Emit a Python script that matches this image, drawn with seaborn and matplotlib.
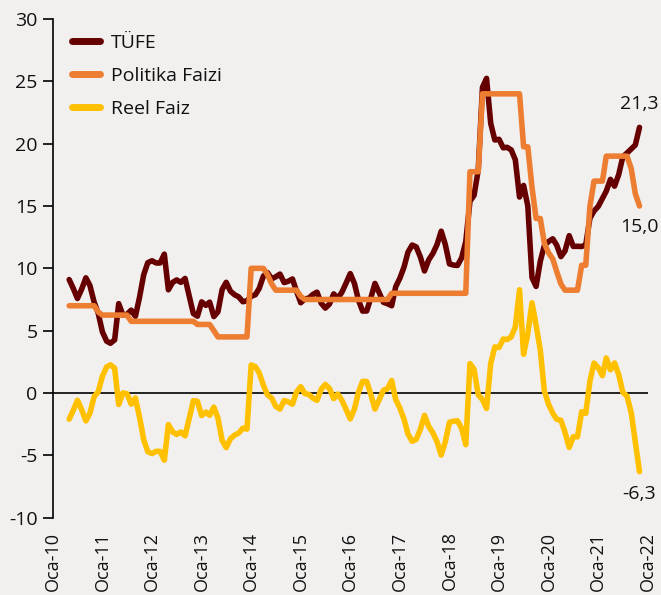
import matplotlib
matplotlib.use('Agg')
import matplotlib.pyplot as plt
import seaborn as sns
import pandas as pd
import numpy as np

# monthly data, May 2010 - Nov 2021
start_month = '2010-05-01'
n_months = 139

tufe = [
    9.10, 8.37, 7.58, 8.33, 9.24, 8.62, 7.29, 6.40,
    4.90, 4.16, 3.99, 4.26, 7.17, 6.24, 6.31, 6.65, 6.15, 7.66, 9.48, 10.45,
    10.61, 10.43, 10.43, 11.14, 8.28, 8.87, 9.07, 8.88, 9.19, 7.80, 6.37, 6.16,
    7.31, 7.03, 7.29, 6.13, 6.51, 8.30, 8.88, 8.17, 7.88, 7.71, 7.32, 7.40,
    7.75, 7.89, 8.39, 9.38, 9.66, 9.16, 9.32, 9.54, 8.86, 8.96, 9.15, 8.17,
    7.24, 7.55, 7.61, 7.91, 8.09, 7.20, 6.81, 7.14, 7.95, 7.58, 8.10, 8.81,
    9.58, 8.78, 7.46, 6.57, 6.58, 7.64, 8.79, 8.05, 7.28, 7.16, 7.00, 8.53,
    9.22, 10.13, 11.29, 11.87, 11.72, 10.90, 9.79, 10.68, 11.20, 11.90, 12.98, 11.92,
    10.35, 10.26, 10.23, 10.85, 12.15, 15.39, 15.85, 17.90, 24.52, 25.24, 21.62, 20.30,
    20.35, 19.67, 19.71, 19.50, 18.71, 15.72, 16.65, 15.01, 9.26, 8.55, 10.56, 11.84,
    12.15, 12.37, 11.86, 10.94, 11.39, 12.62, 11.76, 11.77, 11.75, 11.89, 14.03, 14.60,
    14.97, 15.61, 16.19, 17.14, 16.59, 17.53, 18.95, 19.25, 19.58, 19.89, 21.31,
]

politika = [
    7.0, 7.0, 7.0, 7.0, 7.0, 7.0, 7.0, 6.5,
    6.25, 6.25, 6.25, 6.25, 6.25, 6.25, 6.25, 5.75, 5.75, 5.75, 5.75, 5.75,
    5.75, 5.75, 5.75, 5.75, 5.75, 5.75, 5.75, 5.75, 5.75, 5.75, 5.75, 5.5,
    5.5, 5.5, 5.5, 5.0, 4.5, 4.5, 4.5, 4.5, 4.5, 4.5, 4.5, 4.5,
    10.0, 10.0, 10.0, 10.0, 9.5, 8.75, 8.25, 8.25, 8.25, 8.25, 8.25, 8.25,
    7.75, 7.5, 7.5, 7.5, 7.5, 7.5, 7.5, 7.5, 7.5, 7.5, 7.5, 7.5,
    7.5, 7.5, 7.5, 7.5, 7.5, 7.5, 7.5, 7.5, 7.5, 7.5, 8.0, 8.0,
    8.0, 8.0, 8.0, 8.0, 8.0, 8.0, 8.0, 8.0, 8.0, 8.0, 8.0, 8.0,
    8.0, 8.0, 8.0, 8.0, 8.0, 17.75, 17.75, 17.75, 24.0, 24.0, 24.0, 24.0,
    24.0, 24.0, 24.0, 24.0, 24.0, 24.0, 19.75, 19.75, 16.5, 14.0, 14.0, 12.0,
    11.25, 10.75, 9.75, 8.75, 8.25, 8.25, 8.25, 8.25, 10.25, 10.25, 15.0, 17.0,
    17.0, 17.0, 19.0, 19.0, 19.0, 19.0, 19.0, 19.0, 18.0, 16.0, 15.0,
]

tick_labels = ['Oca-10', 'Oca-11', 'Oca-12', 'Oca-13', 'Oca-14', 'Oca-15', 'Oca-16',
               'Oca-17', 'Oca-18', 'Oca-19', 'Oca-20', 'Oca-21', 'Oca-22']

dates = pd.date_range(start_month, periods=n_months, freq='MS')
df = pd.DataFrame({'Tarih': dates, 'TÜFE': tufe, 'Politika Faizi': politika})
df['Reel Faiz'] = df['Politika Faizi'] - df['TÜFE']
long_df = df.melt(id_vars='Tarih', var_name='Seri', value_name='Deger')

colors = {'TÜFE': '#660000', 'Politika Faizi': '#ED7D31', 'Reel Faiz': '#FFC000'}
bg = '#F2F0EF'

sns.set_theme(style='white')
plt.rcParams['font.family'] = ['Open Sans', 'DejaVu Sans']
plt.rcParams['text.color'] = '#111111'

fig = plt.figure(figsize=(6.61, 5.95), dpi=100, facecolor=bg)
ax = fig.add_axes([0.080, 0.130, 0.900, 0.838])
ax.set_facecolor(bg)

sns.lineplot(data=long_df, x='Tarih', y='Deger', hue='Seri', palette=colors,
             linewidth=4, ax=ax, solid_capstyle='round')

ax.set_ylim(-10, 30)
ax.set_yticks(np.arange(-10, 31, 5))
ax.set_yticklabels([str(v) for v in range(-10, 31, 5)], fontsize=14, color='#111111')
ticks = pd.date_range('2010-01-01', periods=len(tick_labels), freq='YS')
ax.set_xticks(ticks)
ax.set_xticklabels(tick_labels, rotation=90, fontsize=13, color='#111111')
ax.set_xlim(ticks[0], ticks[-1])
ax.set_xlabel('')
ax.set_ylabel('')

for s in ['top', 'right', 'bottom']:
    ax.spines[s].set_visible(False)
ax.spines['left'].set_color('black')
ax.spines['left'].set_linewidth(1.2)
ax.axhline(0, color='black', linewidth=1.2, zorder=1)
ax.tick_params(axis='y', which='both', left=True, length=7, width=1.2, color='black', pad=4)
ax.tick_params(axis='x', bottom=False, pad=4)

last = df.iloc[-1]
ax.text(last['Tarih'], last['TÜFE'] + 1.85, '21,3', ha='center', va='center', fontsize=14)
ax.text(last['Tarih'], last['Politika Faizi'] - 1.65, '15,0', ha='center', va='center', fontsize=14)
ax.text(last['Tarih'], last['Reel Faiz'] - 1.77, '-6,3', ha='center', va='center', fontsize=14)

leg = ax.legend(loc='upper left', frameon=False, fontsize=14, handlelength=1.45,
                handletextpad=0.55, labelspacing=0.78, borderaxespad=0,
                bbox_to_anchor=(0.019, 0.986))
for line in leg.get_lines():
    line.set_linewidth(5)
    line.set_solid_capstyle('round')

fig.savefig('out.png', dpi=100, facecolor=bg)
